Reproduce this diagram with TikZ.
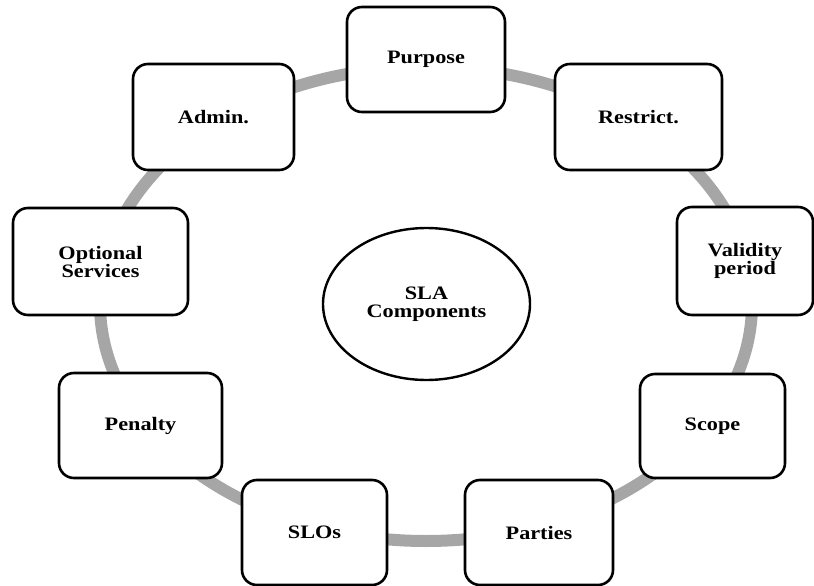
\documentclass[tikz,border=0pt]{standalone}
\usepackage{fontspec}
\setmainfont{Liberation Serif}[FakeStretch=1.17]
\usetikzlibrary{shapes.geometric}
\definecolor{ringgray}{HTML}{A6A6A6}
\newcommand\labelfont{\fontsize{19}{18}\selectfont\bfseries}
\tikzset{
  part/.style={draw=black, line width=2.6pt, fill=white, rounded corners=15pt,
    inner sep=0pt, align=center, font=\labelfont},
  hub/.style={ellipse, draw=black, line width=2.4pt, fill=white, inner sep=0pt,
    align=center, font=\labelfont, minimum width=207pt, minimum height=152pt},
  ring/.style={draw=ringgray, line width=12pt},
}
\begin{document}
\begin{tikzpicture}[x=1pt, y=-1pt]
  \useasboundingbox (0,0) rectangle (814,586);
  % grey ring linking the components
  \draw[ring] (426,304) ellipse [x radius=326pt, y radius=237pt];
  % centre
  \node[hub] (sla) at (426.5,304) {SLA\\Components};
  % components around the ring
  \node[part, minimum width=158pt, minimum height=105pt] (purpose)  at (426,59.5)    {Purpose};
  \node[part, minimum width=167pt, minimum height=106pt] (restrict) at (638.5,117)   {Restrict.};
  \node[part, minimum width=136pt, minimum height=108pt] (validity) at (745,261)     {Validity\\period};
  \node[part, minimum width=145pt, minimum height=104pt] (scope)    at (712.5,426)   {Scope};
  \node[part, minimum width=148pt, minimum height=105pt] (parties)  at (539,532.5)   {Parties};
  \node[part, minimum width=145pt, minimum height=105pt] (slos)     at (314.5,532.5) {SLOs};
  \node[part, minimum width=163pt, minimum height=105pt] (penalty)  at (140.5,425.5) {Penalty};
  \node[part, minimum width=175pt, minimum height=107pt] (optional) at (100.5,261.5) {Optional\\Services};
  \node[part, minimum width=161pt, minimum height=106pt] (admin)    at (213.5,117)   {Admin.};
\end{tikzpicture}
\end{document}
